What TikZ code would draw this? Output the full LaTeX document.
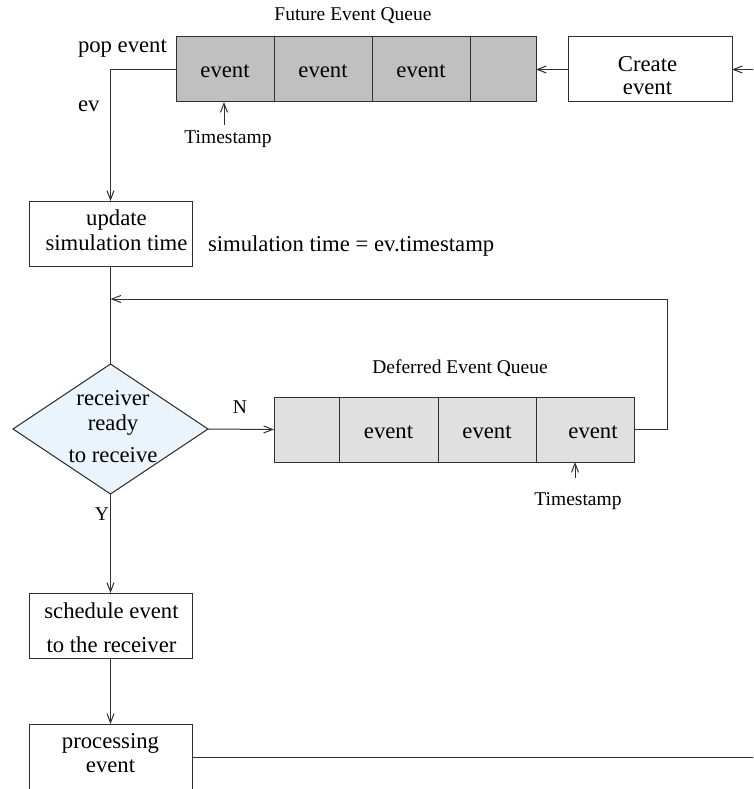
\documentclass[tikz,border=0pt]{standalone}
\usepackage{fontspec}
\setmainfont{Liberation Serif}
\usetikzlibrary{arrows.meta,shapes.geometric}
\definecolor{fqfill}{HTML}{C0C0C0}
\definecolor{dqfill}{HTML}{E0E0E0}
\definecolor{decfill}{HTML}{EAF4FD}
\definecolor{ink}{HTML}{303030}
\begin{document}
\begin{tikzpicture}[x=1pt,y=-1pt,
  every node/.style={inner sep=0pt,outer sep=0pt},
  line/.style={draw=ink,line width=1pt},
  arr/.style={line,-{Straight Barb[length=9pt,width=7pt]}},
  big/.style={font=\fontsize{22.7}{24}\selectfont},
  small/.style={font=\fontsize{19.5}{21}\selectfont},
  % multi-line labels: the base anchor sits on the last line
  txt/.style={big,anchor=base,align=center},
  cell/.style={line,big,minimum height=65pt,text height=17pt,text depth=0pt},
  fcell/.style={cell,fill=fqfill},
  dcell/.style={cell,fill=dqfill},
  procbox/.style={line,fill=white,minimum width=163pt,minimum height=65pt},
]
\useasboundingbox (0,0) rectangle (753,789);
\clip (0,0) rectangle (753,789);

% future event queue
\node[small,anchor=base] (fqt) at (353,21) {Future Event Queue};
\node[fcell,minimum width=98pt] (fq1) at (225,69.5) {event};
\node[fcell,minimum width=98pt] (fq2) at (323,69.5) {event};
\node[fcell,minimum width=98pt] (fq3) at (421,69.5) {event};
\node[fcell,minimum width=66pt] (fq4) at (503,69.5) {};
\node[procbox,minimum width=164pt] (cre) at (650,69.5) {};
\node[txt] (cret) at (647.5,95) {Create\\[-1pt]event};
\node[big,anchor=base west] (pop) at (78,53) {pop event};
\node[big,anchor=base west] (ev) at (78,112) {ev};
\node[small,anchor=base] (ts1) at (228,143) {Timestamp};
\coordinate (t1) at (224,125);

% main flow
\node[procbox] (upd) at (110.5,233.5) {};
\node[txt] (updt) at (116.5,250) {update\\[1pt]simulation time};
\node[big,anchor=base west] (simt) at (208,251) {simulation time = ev.timestamp};

\node[line,diamond,fill=decfill,minimum width=195pt,minimum height=130pt] (dec) at (110.5,429) {};
\node[txt] (dect) at (113,462) {receiver\\[1pt]ready\\[8pt]to receive};
\node[small,anchor=base] (nl) at (240,413) {N};
\node[small,anchor=base] (yl) at (102,520) {Y};

% deferred event queue
\node[small,anchor=base] (dqt) at (460,373) {Deferred Event Queue};
\node[dcell,minimum width=65pt] (dq1) at (306.5,429.5) {};
\node[dcell,minimum width=99pt] (dq2) at (388.5,429.5) {event};
\node[dcell,minimum width=98pt] (dq3) at (487,429.5) {event};
\node[dcell,minimum width=98pt] (dq4) at (585,429.5) {\hspace*{16pt}event};
\node[small,anchor=base] (ts2) at (578,505) {Timestamp};
\coordinate (t2) at (575,478);

\node[procbox] (sch) at (110.5,625.5) {};
\node[txt] (scht) at (111.5,652) {schedule event\\[10pt]to the receiver};
\node[procbox,minimum height=67pt] (proc) at (110.5,757.5) {};
\node[txt] (proct) at (110.5,772) {processing\\event};

% connectors
\coordinate (src) at (760,69.5);
\coordinate (jn) at (110.5,299);
\coordinate (sink) at (760,757.5);
\draw[arr] (src) -- (cre.east);
\draw[arr] (cre.west) -- (fq4.east);
\draw[arr] (fq1.west) -| (upd.north);
\draw[arr] (t1) -- (t1 |- fq1.south);
\draw[line] (upd.south) -- (dec.north);
\draw[arr] (dec.east) -- (dq1.west);
\draw[arr] (dq4.east) -- ++(33,0) |- (jn);
\draw[arr] (t2) -- (t2 |- dq4.south);
\draw[arr] (dec.south) -- (sch.north);
\draw[arr] (sch.south) -- (proc.north);
\draw[line] (proc.east) -- (sink);
\end{tikzpicture}
\end{document}
